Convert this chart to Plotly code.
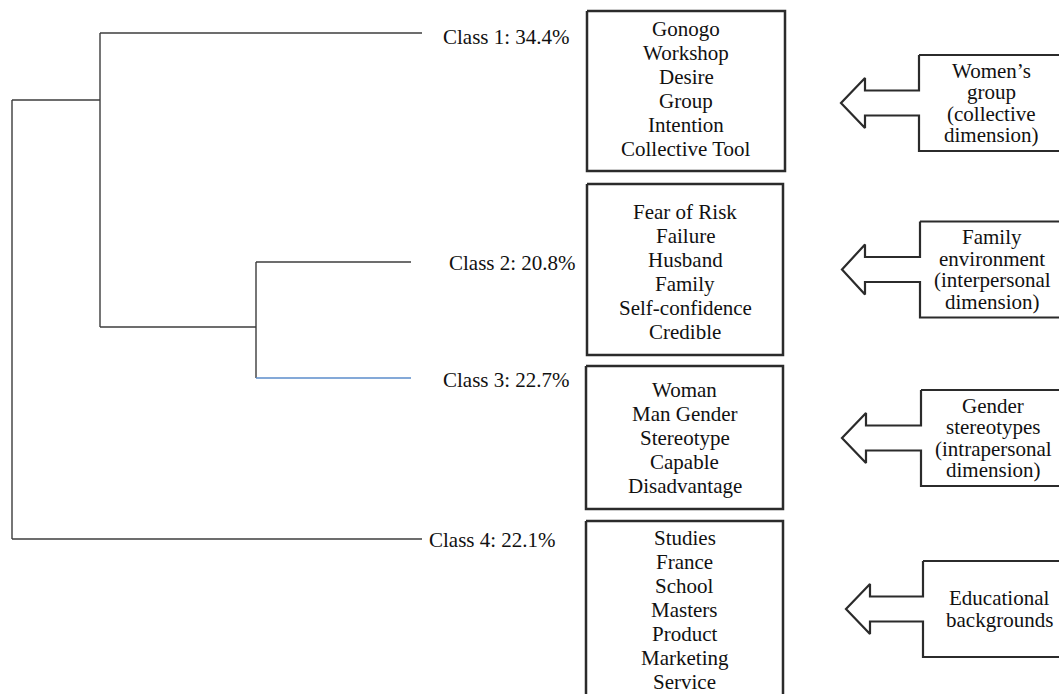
import plotly.graph_objects as go

# ---------------- data ----------------
class_names = ["Class 1", "Class 2", "Class 3", "Class 4"]
class_shares = [34.4, 20.8, 22.7, 22.1]

class_words_1 = ["Gonogo", "Workshop", "Desire", "Group", "Intention", "Collective Tool"]
class_words_2 = ["Fear of Risk", "Failure", "Husband", "Family", "Self-confidence", "Credible"]
class_words_3 = ["Woman", "Man Gender", "Stereotype", "Capable", "Disadvantage"]
class_words_4 = ["Studies", "France", "School", "Masters", "Product", "Marketing", "Service"]
class_words = [class_words_1, class_words_2, class_words_3, class_words_4]

dimension_1 = ["Women\u2019s", "group", "(collective", "dimension)"]
dimension_2 = ["Family", "environment", "(interpersonal", "dimension)"]
dimension_3 = ["Gender", "stereotypes", "(intrapersonal", "dimension)"]
dimension_4 = ["Educational", "backgrounds"]
dimension_labels = [dimension_1, dimension_2, dimension_3, dimension_4]

# ---------------- layout geometry (diagram units = px) ----------------
W, H = 1059, 694
FONT = "'Liberation Serif', 'Times New Roman', 'DejaVu Serif', serif"
FS = 21
TXT = "#111111"
LINE = "#3c3c3c"
BLUE = "#5b8ccb"
BORDER = "#2b2b2b"

leaf_y = [33, 262, 378, 539]
leaf_end_x = [422, 411, 411, 422]
label_x = [442, 448, 442, 428]
label_y = [37, 263, 380, 540]
root_x, nodeA_x, nodeB_x = 12, 100, 256
root_y, nodeB_y = 100, 327

boxes = [(587, 785, 11, 171), (587, 783, 184, 355), (586, 783, 366, 509), (586, 783, 521, 702)]
box_text_cy = [89, 271.5, 438, 610]
box_line = 24

arrows = [  # tip_x, cy, base_x, rect_left, text_cx
    (841, 103, 865, 919, 991),
    (842, 269.5, 865, 920, 992),
    (842, 438, 866, 921, 993),
    (846, 609, 870, 923, 999),
]
rect_half, head_half, shaft_half = 48, 25, 12.5
dim_line = 21.5

fig = go.Figure()

# ---------------- dendrogram ----------------
segs = [
    ((nodeA_x, leaf_y[0]), (leaf_end_x[0], leaf_y[0])),
    ((nodeA_x, leaf_y[0]), (nodeA_x, nodeB_y)),
    ((nodeA_x, nodeB_y), (nodeB_x, nodeB_y)),
    ((nodeB_x, leaf_y[1]), (nodeB_x, leaf_y[2])),
    ((nodeB_x, leaf_y[1]), (leaf_end_x[1], leaf_y[1])),
    ((root_x, root_y), (nodeA_x, root_y)),
    ((root_x, root_y), (root_x, leaf_y[3])),
    ((root_x, leaf_y[3]), (leaf_end_x[3], leaf_y[3])),
]
xs, ys = [], []
for (x0, y0), (x1, y1) in segs:
    xs += [x0, x1, None]
    ys += [y0, y1, None]
fig.add_trace(go.Scatter(x=xs, y=ys, mode="lines", line=dict(color=LINE, width=1.4),
                         hoverinfo="skip", showlegend=False))
fig.add_trace(go.Scatter(x=[nodeB_x, leaf_end_x[2]], y=[leaf_y[2], leaf_y[2]], mode="lines",
                         line=dict(color=BLUE, width=1.6), hoverinfo="skip", showlegend=False))

for i, (name, share) in enumerate(zip(class_names, class_shares)):
    fig.add_annotation(x=label_x[i], y=label_y[i], text=f"{name}: {share}%", showarrow=False,
                       xanchor="left", yanchor="middle", borderpad=0,
                       font=dict(family=FONT, size=FS, color=TXT))

# ---------------- word boxes ----------------
for (x0, x1, y0, y1), words, cy in zip(boxes, class_words, box_text_cy):
    fig.add_trace(go.Scatter(x=[x0, x1, x1, x0, x0], y=[y0, y0, y1, y1, y0], mode="lines",
                             line=dict(color=BORDER, width=2.5), hoverinfo="skip", showlegend=False))
    n = len(words)
    cx = (x0 + x1) / 2
    for j, w in enumerate(words):
        fig.add_annotation(x=cx, y=cy + (j - (n - 1) / 2) * box_line, text=w, showarrow=False,
                           xanchor="center", yanchor="middle", borderpad=0,
                           font=dict(family=FONT, size=FS, color=TXT))

# ---------------- arrow callouts ----------------
for (tip_x, cy, base_x, rect_left, text_cx), lines in zip(arrows, dimension_labels):
    right = W + 10
    px = [rect_left, right, right, rect_left, rect_left, base_x, base_x, tip_x,
          base_x, base_x, rect_left, rect_left]
    py = [cy - rect_half, cy - rect_half, cy + rect_half, cy + rect_half, cy + shaft_half,
          cy + shaft_half, cy + head_half, cy, cy - head_half, cy - shaft_half,
          cy - shaft_half, cy - rect_half]
    fig.add_trace(go.Scatter(x=px, y=py, mode="lines", line=dict(color=BORDER, width=2.2),
                             hoverinfo="skip", showlegend=False))
    n = len(lines)
    for j, t in enumerate(lines):
        fig.add_annotation(x=text_cx, y=cy + (j - (n - 1) / 2) * dim_line, text=t, showarrow=False,
                           xanchor="center", yanchor="middle", borderpad=0,
                           font=dict(family=FONT, size=FS, color=TXT))

fig.update_xaxes(range=[0, W], visible=False, fixedrange=True)
fig.update_yaxes(range=[H, 0], visible=False, fixedrange=True)
fig.update_layout(width=W, height=H, margin=dict(l=0, r=0, t=0, b=0),
                  font=dict(family=FONT),
                  plot_bgcolor="white", paper_bgcolor="white", showlegend=False)

fig.write_html("out.html", config={"displayModeBar": False},
               post_script="document.body.style.margin='0';document.body.style.overflow='hidden';")
